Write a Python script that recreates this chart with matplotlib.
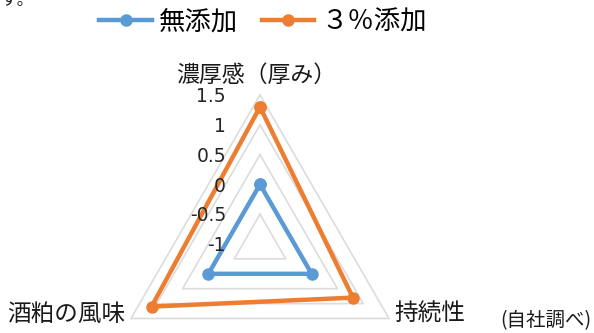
import numpy as np
import matplotlib
matplotlib.use("Agg")
import matplotlib.pyplot as plt

plt.rcParams['font.family'] = ['Noto Sans CJK JP', 'DejaVu Sans']

categories = ['濃厚感（厚み）', '持続性', '酒粕の風味']
series_names = ['無添加', '３％添加']
values_none = [0.0, 0.0, 0.0]
values_3pct = [1.3, 0.8, 1.1]
levels = [-0.5, 0.0, 0.5, 1.0, 1.5]
tick_labels = ['-1', '-0.5', '0', '0.5', '1', '1.5']
tick_values = [-1.0, -0.5, 0.0, 0.5, 1.0, 1.5]
colors = ['#5B9BD5', '#ED7D31']
note = '(自社調べ)'

W, H = 594, 333
fig = plt.figure(figsize=(W / 100, H / 100), dpi=100)

cx, cy, R = 260, 244, 149
ax = fig.add_axes([(cx - R) / W, (H - cy - R) / H, 2 * R / W, 2 * R / H], projection='polar')
ax.set_theta_offset(np.pi / 2)
ax.set_theta_direction(-1)
ax.set_ylim(-1, 1.5)
ax.grid(False)
ax.set_xticks([])
ax.set_yticks([])
ax.spines['polar'].set_visible(False)
ax.patch.set_alpha(0)

n = len(categories)
theta = np.arange(n) * 2 * np.pi / n
theta_c = np.append(theta, theta[0])

for lv in levels:
    ax.plot(theta_c, [lv] * (n + 1), color='#dcdcdc', lw=1.2, zorder=1, clip_on=False)

for vals, col, name in zip([values_none, values_3pct], colors, series_names):
    v = np.append(vals, vals[0])
    ax.plot(theta_c, v, color=col, lw=3.2, marker='o', ms=8, label=name, zorder=3,
            solid_joinstyle='miter', clip_on=False)

for tv, tl in zip(tick_values, tick_labels):
    ax.annotate(tl, xy=(0, tv), xytext=(-24.5, -1.2), textcoords='offset points',
                ha='right', va='center', fontsize=13.5, color='#262626',
                family='DejaVu Sans', zorder=5)

# axis category labels
ax.annotate(categories[0], xy=(theta[0], 1.5), xytext=(-3, 14), textcoords='offset points',
            ha='center', va='center', fontsize=16.5, color='#1a1a1a')
ax.annotate(categories[1], xy=(theta[1], 1.5), xytext=(4, 3), textcoords='offset points',
            ha='left', va='center', fontsize=17, color='#1a1a1a')
ax.annotate(categories[2], xy=(theta[2], 1.5), xytext=(-4, 3), textcoords='offset points',
            ha='right', va='center', fontsize=17, color='#1a1a1a')

fig.text(591 / W, 1 - 321 / H, note, ha='right', va='center', fontsize=14, color='#1a1a1a')
fig.text(0.0, 1.0, 'す。', ha='left', va='center', fontsize=12, color='#1a1a1a')

fig.legend(loc='center', bbox_to_anchor=(263 / W, 1 - 22 / H), ncol=2, frameon=False,
           fontsize=19, handlelength=2.0, handletextpad=0.25, columnspacing=0.9)

fig.savefig('out.png', dpi=100)
